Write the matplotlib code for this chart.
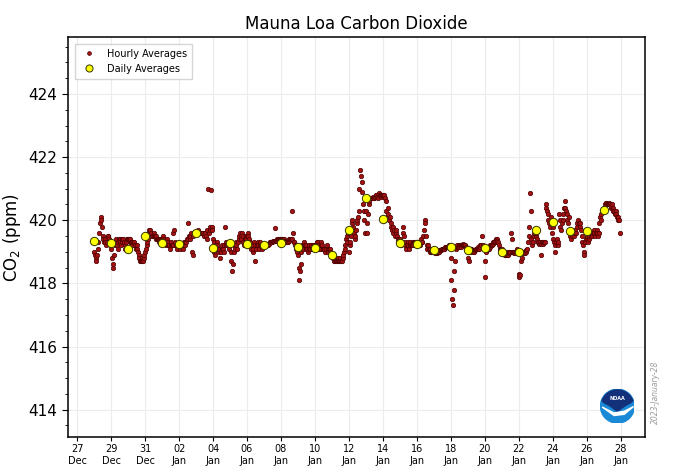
import numpy as np
import matplotlib
matplotlib.use("Agg")
import matplotlib.pyplot as plt
import matplotlib.dates as mdates
from matplotlib.patches import Circle, Ellipse, Polygon

# day labels for the hourly blocks (Dec 28 .. Jan 27)
days = ["2022-12-28", "2022-12-29", "2022-12-30", "2022-12-31",
        "2023-01-01", "2023-01-02", "2023-01-03", "2023-01-04",
        "2023-01-05", "2023-01-06", "2023-01-07", "2023-01-08",
        "2023-01-09", "2023-01-10", "2023-01-11", "2023-01-12",
        "2023-01-13", "2023-01-14", "2023-01-15", "2023-01-16",
        "2023-01-17", "2023-01-18", "2023-01-19", "2023-01-20",
        "2023-01-21", "2023-01-22", "2023-01-23", "2023-01-24",
        "2023-01-25", "2023-01-26", "2023-01-27"]

# hourly averages, one list of 24 per day (ppm)
hourly = [
    [419.0, 418.9, 418.8, 418.7, 418.9, 419.1, 419.3, 419.6, 419.9, 420.1, 420.0, 419.8,
     419.5, 419.4, 419.3, 419.4, 419.3, 419.2, 419.3, 419.5, 419.5, 419.4, 419.3, 419.2],
    [419.1, 418.8, 418.5, 418.6, 418.9, 419.2, 419.3, 419.4, 419.2, 419.1, 419.3, 419.4,
     419.4, 419.3, 419.2, 419.3, 419.4, 419.4, 419.3, 419.2, 419.1, 419.3, 419.4, 419.4],
    [419.4, 419.4, 419.3, 419.4, 419.3, 419.3, 419.2, 419.3, 419.3, 419.2, 419.2, 419.1,
     419.2, 419.1, 419.0, 418.9, 418.8, 418.7, 418.7, 418.8, 418.7, 418.7, 418.8, 418.9],
    [419.0, 419.1, 419.2, 419.3, 419.4, 419.6, 419.7, 419.7, 419.6, 419.6, 419.5, 419.5,
     419.6, 419.5, 419.5, 419.4, 419.5, 419.4, 419.4, 419.3, 419.4, 419.4, 419.3, 419.4],
    [419.4, 419.5, 419.4, 419.3, 419.3, 419.2, 419.3, 419.4, 419.3, 419.2, 419.2, 419.1,
     419.2, 419.3, 419.2, 419.2, 419.6, 419.7, 419.3, 419.2, 419.2, 419.1, 419.2, 419.2],
    [419.2, 419.2, 419.1, 419.2, 419.2, 419.1, 419.2, 419.3, 419.2, 419.3, 419.3, 419.4,
     419.4, 419.9, 419.5, 419.4, 419.5, 419.6, 419.0, 418.9, 419.5, 419.6, 419.6, 419.6],
    [419.6, 419.6, 419.6, 419.7, 419.6, 419.6, 419.6, 419.6, 419.6, 419.6, 419.6, 419.5,
     419.6, 419.6, 419.5, 419.4, 419.7, 421.0, 419.6, 419.7, 419.8, 420.95, 419.8, 419.7],
    [419.4, 419.3, 419.0, 418.9, 419.2, 419.3, 419.2, 419.1, 419.0, 419.1, 418.8, 419.0,
     419.1, 419.2, 419.1, 419.0, 419.2, 419.8, 419.3, 419.2, 419.2, 419.3, 419.2, 419.1],
    [419.2, 419.0, 418.7, 418.4, 418.6, 419.0, 419.2, 419.1, 419.3, 419.2, 419.1, 419.3,
     419.4, 419.5, 419.6, 419.5, 419.4, 419.6, 419.5, 419.3, 419.2, 419.4, 419.5, 419.4],
    [419.5, 419.6, 419.5, 419.4, 419.3, 419.2, 419.1, 419.2, 419.0, 419.1, 419.3, 419.2,
     418.7, 419.1, 419.2, 419.3, 419.2, 419.1, 419.2, 419.3, 419.2, 419.1, 419.2, 419.2],
    [419.2, 419.2, 419.2, 419.2, 419.2, 419.2, 419.25, 419.25, 419.3, 419.3, 419.3, 419.3,
     419.3, 419.35, 419.35, 419.35, 419.75, 419.35, 419.35, 419.4, 419.4, 419.4, 419.4, 419.4],
    [419.4, 419.4, 419.4, 419.4, 419.4, 419.35, 419.35, 419.3, 419.3, 419.3, 419.3, 419.35,
     419.4, 419.4, 419.4, 420.3, 419.4, 419.6, 419.3, 419.3, 419.2, 419.1, 419.0, 419.2],
    [418.9, 418.5, 418.1, 418.4, 418.6, 419.0, 419.2, 419.1, 419.2, 419.3, 419.2, 419.1,
     419.2, 419.1, 419.0, 419.1, 419.2, 419.1, 419.2, 419.2, 419.1, 419.2, 419.2, 419.2],
    [419.1, 419.1, 419.2, 419.3, 419.3, 419.2, 419.1, 419.1, 419.2, 419.3, 419.2, 419.1,
     419.1, 419.1, 419.0, 419.1, 419.1, 419.2, 419.1, 419.0, 419.1, 419.1, 419.0, 418.9],
    [418.9, 418.8, 418.8, 418.7, 418.7, 418.8, 418.7, 418.7, 418.8, 418.7, 418.7, 418.7,
     418.8, 418.7, 418.7, 418.8, 418.9, 419.0, 419.2, 419.1, 419.4, 419.3, 419.5, 419.6],
    [419.0, 419.2, 419.3, 419.5, 419.9, 420.0, 419.8, 419.6, 419.4, 419.5, 419.7, 419.9,
     420.0, 420.1, 420.3, 421.0, 421.6, 421.4, 421.2, 420.9, 420.5, 420.3, 420.0, 419.6],
    [420.3, 419.9, 419.6, 420.2, 420.5, 420.6, 420.7, 420.7, 420.7, 420.7, 420.75, 420.7,
     420.7, 420.75, 420.8, 420.8, 420.75, 420.7, 420.8, 420.85, 420.8, 420.75, 420.8, 420.8],
    [420.8, 420.75, 420.8, 420.7, 420.6, 420.3, 420.1, 420.4, 420.2, 420.0, 420.1, 419.9,
     419.8, 419.7, 419.8, 419.6, 419.7, 419.5, 419.6, 419.7, 419.5, 419.4, 419.3, 419.4],
    [419.4, 419.3, 419.2, 419.3, 419.6, 419.8, 419.5, 419.3, 419.2, 419.1, 419.2, 419.3,
     419.2, 419.1, 419.2, 419.3, 419.2, 419.2, 419.3, 419.2, 419.3, 419.2, 419.3, 419.3],
    [419.3, 419.2, 419.3, 419.3, 419.2, 419.3, 419.4, 419.3, 419.3, 419.5, 419.7, 420.0,
     419.9, 419.5, 419.2, 419.1, 419.2, 419.1, 419.0, 419.1, 419.0, 419.0, 419.0, 419.1],
    [419.0, 419.0, 418.95, 418.95, 418.95, 419.0, 419.0, 419.0, 419.05, 419.05, 419.05, 419.1,
     419.1, 419.1, 419.1, 419.1, 419.15, 419.15, 419.15, 419.15, 419.15, 419.15, 419.2, 419.2],
    [418.8, 418.1, 417.5, 417.3, 417.8, 418.4, 418.7, 419.1, 419.15, 419.2, 419.15, 419.2,
     419.15, 419.2, 419.2, 419.15, 419.2, 419.25, 419.2, 419.2, 419.2, 419.15, 419.1, 419.1],
    [419.0, 418.8, 418.7, 419.0, 419.1, 419.1, 419.05, 419.05, 419.0, 419.0, 419.05, 419.1,
     419.1, 419.1, 419.15, 419.1, 419.1, 419.2, 419.15, 419.2, 419.5, 419.2, 419.15, 419.1],
    [418.2, 418.7, 419.0, 419.05, 419.1, 419.1, 419.1, 419.15, 419.2, 419.2, 419.2, 419.25,
     419.3, 419.3, 419.3, 419.35, 419.4, 419.4, 419.35, 419.3, 419.2, 419.1, 419.05, 419.0],
    [419.1, 419.0, 419.0, 418.95, 418.9, 418.9, 418.95, 419.0, 418.9, 418.9, 418.95, 419.0,
     419.0, 419.6, 419.4, 419.0, 419.0, 418.95, 419.0, 418.95, 419.0, 419.05, 419.1, 419.0],
    [418.3, 418.2, 418.25, 418.7, 418.8, 418.95, 419.0, 418.95, 419.0, 418.95, 419.0, 419.05,
     419.1, 419.3, 419.5, 419.8, 420.85, 420.3, 419.4, 419.2, 419.3, 419.5, 419.6, 419.7],
    [419.5, 419.6, 419.4, 419.3, 419.3, 419.25, 419.3, 418.9, 419.25, 419.3, 419.25, 419.3,
     419.3, 419.3, 420.4, 420.5, 420.3, 420.2, 420.0, 419.9, 419.8, 420.1, 419.9, 419.6],
    [419.8, 419.4, 419.3, 419.0, 419.2, 419.3, 419.4, 419.2, 419.3, 420.2, 420.0, 419.8,
     419.7, 419.9, 420.0, 420.2, 420.4, 420.6, 420.4, 420.3, 420.2, 420.0, 419.9, 420.1],
    [419.7, 419.5, 419.4, 419.6, 419.5, 419.6, 419.5, 419.6, 419.7, 419.6, 419.8, 419.9,
     420.0, 419.9, 419.8, 419.9, 419.7, 419.5, 419.3, 419.2, 419.0, 418.9, 419.3, 419.4],
    [419.4, 419.5, 419.3, 419.4, 419.5, 419.6, 419.5, 419.6, 419.5, 419.6, 419.7, 419.6,
     419.5, 419.6, 419.7, 419.6, 419.5, 419.6, 419.9, 420.1, 420.0, 420.2, 420.3, 420.3],
    [420.3, 420.4, 420.5, 420.55, 420.55, 420.5, 420.5, 420.55, 420.5, 420.5, 420.4, 420.45,
     420.5, 420.4, 420.3, 420.3, 420.2, 420.3, 420.2, 420.1, 420.0, 420.1, 420.0, 419.6],
]

# daily averages (ppm), plotted at the start of each day
daily = [419.33, 419.29, 419.08, 419.49, 419.29, 419.25, 419.60, 419.12, 419.29, 419.25,
         419.23, 419.29, 419.15, 419.12, 418.89, 419.69, 420.70, 420.03, 419.28, 419.25,
         419.06, 419.16, 419.06, 419.12, 418.98, 418.98, 419.68, 419.93, 419.67, 419.67,
         420.33]

day_t = np.array(days, dtype="datetime64[h]")
hour_t = np.concatenate([d + np.arange(len(v)).astype("timedelta64[h]")
                         for d, v in zip(day_t, hourly)])
hour_v = np.concatenate([np.array(v) for v in hourly])

def todt(a):
    return a.astype("datetime64[s]").astype(object)

fig = plt.figure(figsize=(6.8, 4.76), dpi=100)
ax = fig.add_axes([0.1, 0.081, 0.849, 0.841])

ax.grid(True, color="#ececec", linewidth=0.8, zorder=0)
ax.plot(todt(hour_t), hour_v, "o", ms=3.2,
        color="#a31212", mec="#4a0000", mew=0.5, label="Hourly Averages", zorder=3)
ax.plot(todt(day_t), daily, "o", ms=6,
        color="#ffff00", mec="#333300", mew=0.7, label="Daily Averages", zorder=4)

ax.set_ylim(413.12, 425.8)
ax.set_xlim(todt(np.datetime64("2022-12-26T11", "h")), todt(np.datetime64("2023-01-29T11", "h")))

ticks = np.arange(np.datetime64("2022-12-27"), np.datetime64("2023-01-29"), 2)
ax.set_xticks(todt(ticks))
ax.xaxis.set_major_formatter(mdates.DateFormatter("%d\n%b"))
ax.set_yticks([414, 416, 418, 420, 422, 424])
ax.yaxis.set_minor_locator(matplotlib.ticker.MultipleLocator(0.5))
ax.tick_params(axis="x", labelsize=7, length=3, pad=2)
ax.tick_params(axis="y", labelsize=11, length=4)
ax.tick_params(axis="y", which="minor", length=2.5)
for s in ax.spines.values():
    s.set_linewidth(1.1)

ax.set_title("Mauna Loa Carbon Dioxide", fontsize=12)
ax.set_ylabel("CO$_2$ (ppm)", fontsize=12)
leg = ax.legend(loc="upper left", fontsize=7, handletextpad=0.8, borderpad=0.5,
                fancybox=False, edgecolor="#cccccc", markerscale=0.85,
                bbox_to_anchor=(0.003, 0.995))

fig.text(0.964, 0.176, "2023-January-28", rotation=90, fontsize=5.5, color="#999999",
         style="italic", ha="center", va="center")

# NOAA logo
lax = fig.add_axes([0.883, 0.111, 0.05, 0.0714])
lax.set_xlim(-1, 1)
lax.set_ylim(-1, 1)
lax.set_aspect("equal")
lax.axis("off")
disc = Circle((0, 0), 1, color="#1a8ad6")
lax.add_patch(disc)
top = Ellipse((0, 0.55), 2.0, 1.1, color="#13307b")
lax.add_patch(top)
top.set_clip_path(disc)
tail = Polygon([[-0.55, 0.1], [0.55, 0.1], [0.0, -0.3]], closed=True, color="#13307b")
lax.add_patch(tail)
wing = Polygon([[-0.9, -0.05], [-0.2, -0.4], [0.4, -0.3], [0.95, -0.02],
                [0.4, -0.48], [-0.2, -0.55]], closed=True, color="white")
lax.add_patch(wing)
lax.text(0, 0.45, "NOAA", color="white", fontsize=3.5, ha="center", va="center",
         fontweight="bold")

fig.savefig("out.png", dpi=100)
